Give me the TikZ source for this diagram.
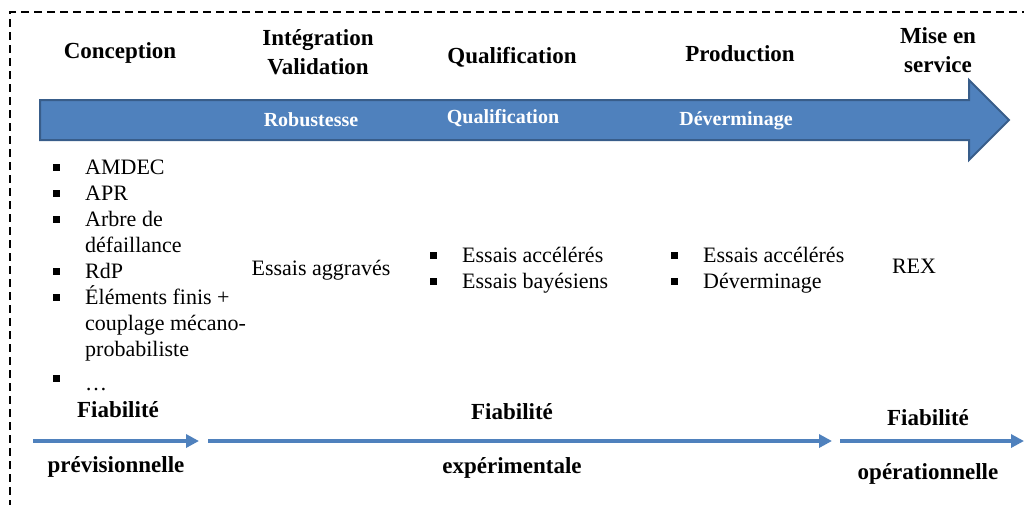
\documentclass[tikz,border=0pt]{standalone}
\usepackage{fontspec}
\setmainfont{Liberation Serif}
\usetikzlibrary{arrows.meta}
\definecolor{officeblue}{HTML}{4F81BD}
\definecolor{officeedge}{HTML}{385D8A}
\newcommand{\sqb}{\makebox[32pt][l]{\raisebox{3.5pt}{\rule{7pt}{7pt}}}}

\begin{document}
\begin{tikzpicture}[x=1pt,y=-1pt,>={Triangle[length=13pt,width=13pt]},
  phase/.style={font=\fontsize{23}{29}\selectfont\bfseries,align=center},
  tag/.style={font=\fontsize{20}{24}\selectfont\bfseries,text=white},
  plain/.style={font=\fontsize{22}{26}\selectfont},
  items/.style={font=\fontsize{22}{26}\selectfont,align=left,anchor=north west,inner sep=0pt},
  flow/.style={->,draw=officeblue,line width=4pt}]
  \useasboundingbox (0,0) rectangle (1024,504);
  % cadre en pointilles
  \draw[dash pattern=on 8pt off 5pt,line width=1.5pt] (1030,12) -- (10,12) -- (10,510);
  % grande fleche
  \draw[fill=officeblue,draw=officeedge,line width=2pt]
    (40,100) -- (969,100) -- (969,80) -- (1009,120) -- (969,160) -- (969,140) -- (40,140) -- cycle;
  % phases
  \node[phase] (p1) at (120,53) {Conception};
  \node[phase] (p2) at (318,52) {Intégration\\Validation};
  \node[phase] (p3) at (512,57) {Qualification};
  \node[phase] (p4) at (740,54) {Production};
  \node[phase] (p5) at (938,50) {Mise en\\service};
  \node[tag] (t2) at (311,120) {Robustesse};
  \node[tag] (t3) at (503,118) {Qualification};
  \node[tag] (t4) at (736,121) {Déverminage};
  % methodes
  \node[items] (m1) at (53,160) {\sqb AMDEC\\ \sqb APR\\ \sqb Arbre de\\ \hspace*{32pt}défaillance\\
    \sqb RdP\\ \sqb Éléments finis +\\ \hspace*{32pt}couplage mécano-\\ \hspace*{32pt}probabiliste\\[3pt]
    \sqb \raisebox{-5pt}{\ldots}};
  \node[plain] (m2) at (321,270) {Essais aggravés};
  \node[items] (m3) at (430,247) {\sqb Essais accélérés\\ \sqb Essais bayésiens};
  \node[items] (m4) at (671,247) {\sqb Essais accélérés\\ \sqb Déverminage};
  \node[plain] (m5) at (914,266) {REX};
  % fiabilite
  \node[phase] (b1) at (118,410) {Fiabilité};
  \node[phase] (b2) at (512,412) {Fiabilité};
  \node[phase] (b3) at (928,418) {Fiabilité};
  \node[phase] (c1) at (116,467) {prévisionnelle};
  \node[phase] (c2) at (512,468) {expérimentale};
  \node[phase] (c3) at (928,474) {opérationnelle};
  \coordinate (f1a) at (33,441);
  \coordinate (f1b) at (199,441);
  \coordinate (f2a) at (208,441);
  \coordinate (f2b) at (832,441);
  \coordinate (f3a) at (840,441);
  \coordinate (f3b) at (1024,441);
  \draw[flow] (f1a) -- (f1b);
  \draw[flow] (f2a) -- (f2b);
  \draw[flow] (f3a) -- (f3b);
\end{tikzpicture}
\end{document}
